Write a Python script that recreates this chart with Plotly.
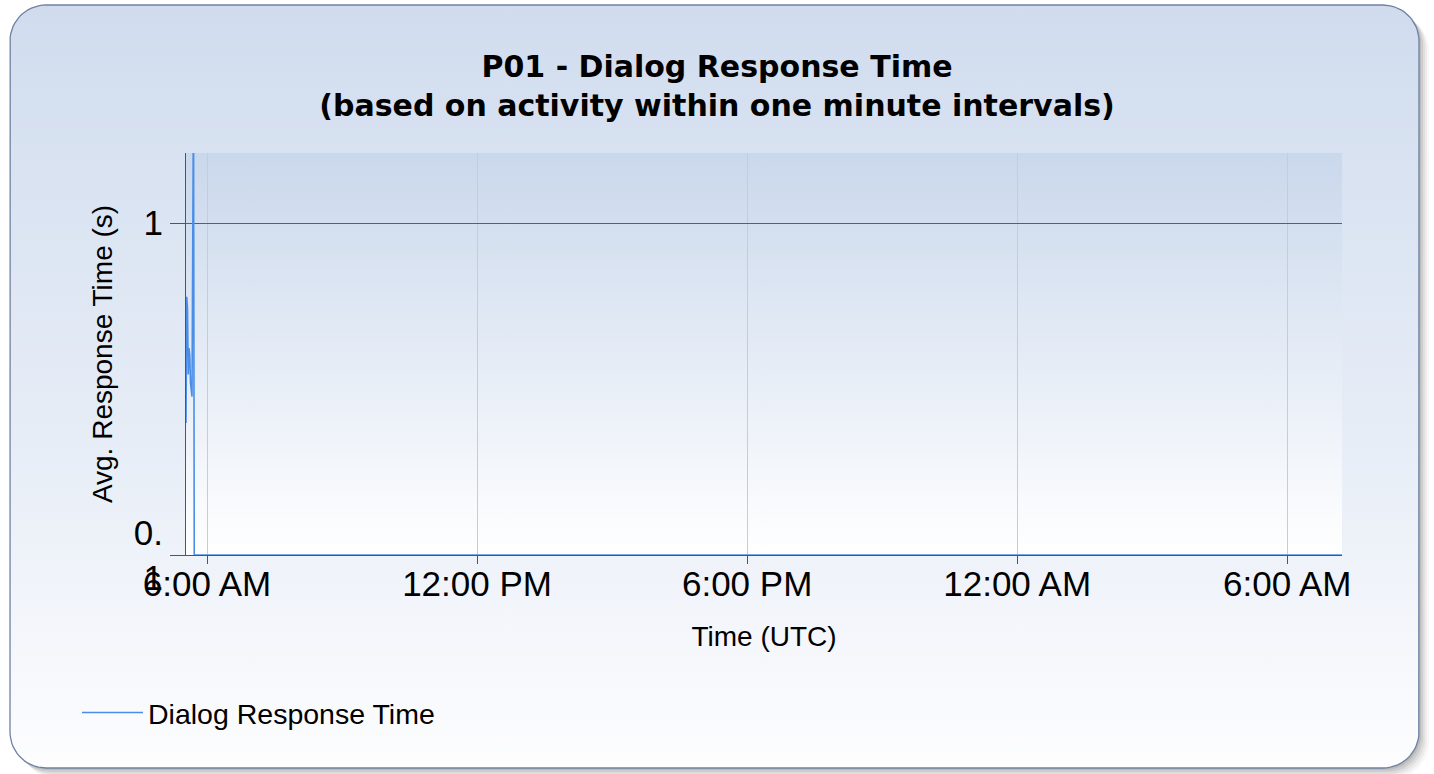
import numpy as np
import plotly.graph_objects as go

# ---------------- data ----------------
times = [
    "2024-01-15 05:32", "2024-01-15 05:33", "2024-01-15 05:34", "2024-01-15 05:35",
    "2024-01-15 05:36", "2024-01-15 05:37", "2024-01-15 05:38", "2024-01-15 05:39",
    "2024-01-15 05:40", "2024-01-15 05:42", "2024-01-15 05:43", "2024-01-16 07:13",
]
response_s = [0.25, 0.60, 0.55, 0.35, 0.42, 0.40, 0.33, 0.31, 0.30, 2.5, 0.1, 0.1]
series_name = "Dialog Response Time"

x_tick_vals = ["2024-01-15 06:00", "2024-01-15 12:00", "2024-01-15 18:00",
               "2024-01-16 00:00", "2024-01-16 06:00"]
x_tick_text = ["6:00 AM", "12:00 PM", "6:00 PM", "12:00 AM", "6:00 AM"]
y_tick_vals = [0.1, 1]
y_tick_text = ["0.<br>1", "1"]
x_range = ["2024-01-15 05:32", "2024-01-16 07:13"]

# ---------------- layout geometry ----------------
W, H = 1434, 774
PX0, PX1, PY0, PY1 = 186, 1342, 153, 555   # plot area in pixels


def rrect(x0, y0, x1, y1, r, n=16):
    xs, ys = [], []
    corners = [(x1 - r, y0 + r, -90, 0), (x1 - r, y1 - r, 0, 90),
               (x0 + r, y1 - r, 90, 180), (x0 + r, y0 + r, 180, 270)]
    for cx, cy, a0, a1 in corners:
        for a in np.linspace(np.radians(a0), np.radians(a1), n):
            xs.append(cx + r * np.cos(a))
            ys.append(cy + r * np.sin(a))
    xs.append(xs[0]); ys.append(ys[0])
    return xs, ys


fig = go.Figure()

# shadow
for off, op in [(10, 0.04), (8, 0.06), (6, 0.08), (4, 0.10), (2, 0.12)]:
    sx, sy = rrect(10 + off, 5 + off, 1419 + off, 768 + off, 36)
    fig.add_trace(go.Scatter(x=sx, y=sy, xaxis="x", yaxis="y", mode="lines",
                             line=dict(width=0), fill="toself",
                             fillcolor=f"rgba(60,60,60,{op})",
                             hoverinfo="skip", showlegend=False))

# card
cx, cy = rrect(10, 5, 1419, 768, 36)
fig.add_trace(go.Scatter(x=cx, y=cy, xaxis="x", yaxis="y", mode="lines",
                         line=dict(width=1.3, color="#6f81a3"), fill="toself",
                         fillgradient=dict(type="vertical", start=5, stop=768,
                                           colorscale=[[0, "#d0dcee"], [0.6, "#e8eef7"], [1, "#fdfdfe"]]),
                         hoverinfo="skip", showlegend=False))

# plot area background
fig.add_trace(go.Scatter(x=[PX0, PX1, PX1, PX0, PX0], y=[PY0, PY0, PY1, PY1, PY0],
                         xaxis="x", yaxis="y", mode="lines", line=dict(width=0),
                         fill="toself",
                         fillgradient=dict(type="vertical", start=PY0, stop=PY1,
                                           colorscale=[[0, "#cad8ec"], [1, "#ffffff"]]),
                         hoverinfo="skip", showlegend=False))

# data
fig.add_trace(go.Scatter(x=times, y=response_s, xaxis="x2", yaxis="y2", mode="lines",
                         name=series_name, line=dict(color="#4a8ee8", width=1.6),
                         showlegend=True))

TICKFONT = dict(family="Liberation Sans, Arial", size=35, color="#000000")
TITLEFONT = dict(family="Liberation Sans, Arial", size=28, color="#000000")
LEGENDFONT = dict(family="Liberation Sans, Arial", size=28.5, color="#000000")

fig.update_layout(
    width=W, height=H,
    margin=dict(l=0, r=0, t=0, b=0, autoexpand=False),
    paper_bgcolor="#ffffff",
    plot_bgcolor="rgba(0,0,0,0)",
    title=dict(text="P01 - Dialog Response Time<br>(based on activity within one minute intervals)",
               x=0.5, xanchor="center", y=1 - 77 / H, yanchor="middle",
               font=dict(family="DejaVu Sans", size=30, color="#000000", weight="bold")),
    xaxis=dict(domain=[0, 1], range=[0, W], visible=False, fixedrange=True, automargin=False),
    yaxis=dict(domain=[0, 1], range=[H, 0], visible=False, fixedrange=True, automargin=False),
    xaxis2=dict(domain=[PX0 / W, PX1 / W], anchor="y2", type="date", range=x_range,
                automargin=False,
                tickvals=x_tick_vals, ticktext=x_tick_text, tickfont=TICKFONT,
                ticks="outside", ticklen=8, tickcolor="#555555", ticklabelstandoff=-10,
                showline=True, linecolor="#555555", linewidth=1,
                showgrid=True, gridcolor="#c8ccd5", gridwidth=1, zeroline=False,
                title=dict(text="Time (UTC)", font=TITLEFONT, standoff=24)),
    yaxis2=dict(domain=[1 - PY1 / H, 1 - PY0 / H], anchor="x2", type="log",
                automargin=False,
                range=[-1, 0.211], tickvals=y_tick_vals, ticktext=y_tick_text,
                tickfont=TICKFONT, ticks="outside", ticklen=15, tickcolor="#555555",
                showline=True, linecolor="#555555", linewidth=1,
                showgrid=True, gridcolor="#5c6066", gridwidth=1, zeroline=False,
                title=dict(text="Avg. Response Time (s)", font=TITLEFONT, standoff=12)),
    legend=dict(x=77 / W, y=1 - 713 / H, xanchor="left", yanchor="middle",
                bgcolor="rgba(0,0,0,0)", font=LEGENDFONT, itemwidth=61),
    showlegend=True,
    hovermode=False,
)

fig.write_html("out.html", config={"displayModeBar": False},
               post_script="document.body.style.margin='0px';document.body.style.overflow='hidden';")
